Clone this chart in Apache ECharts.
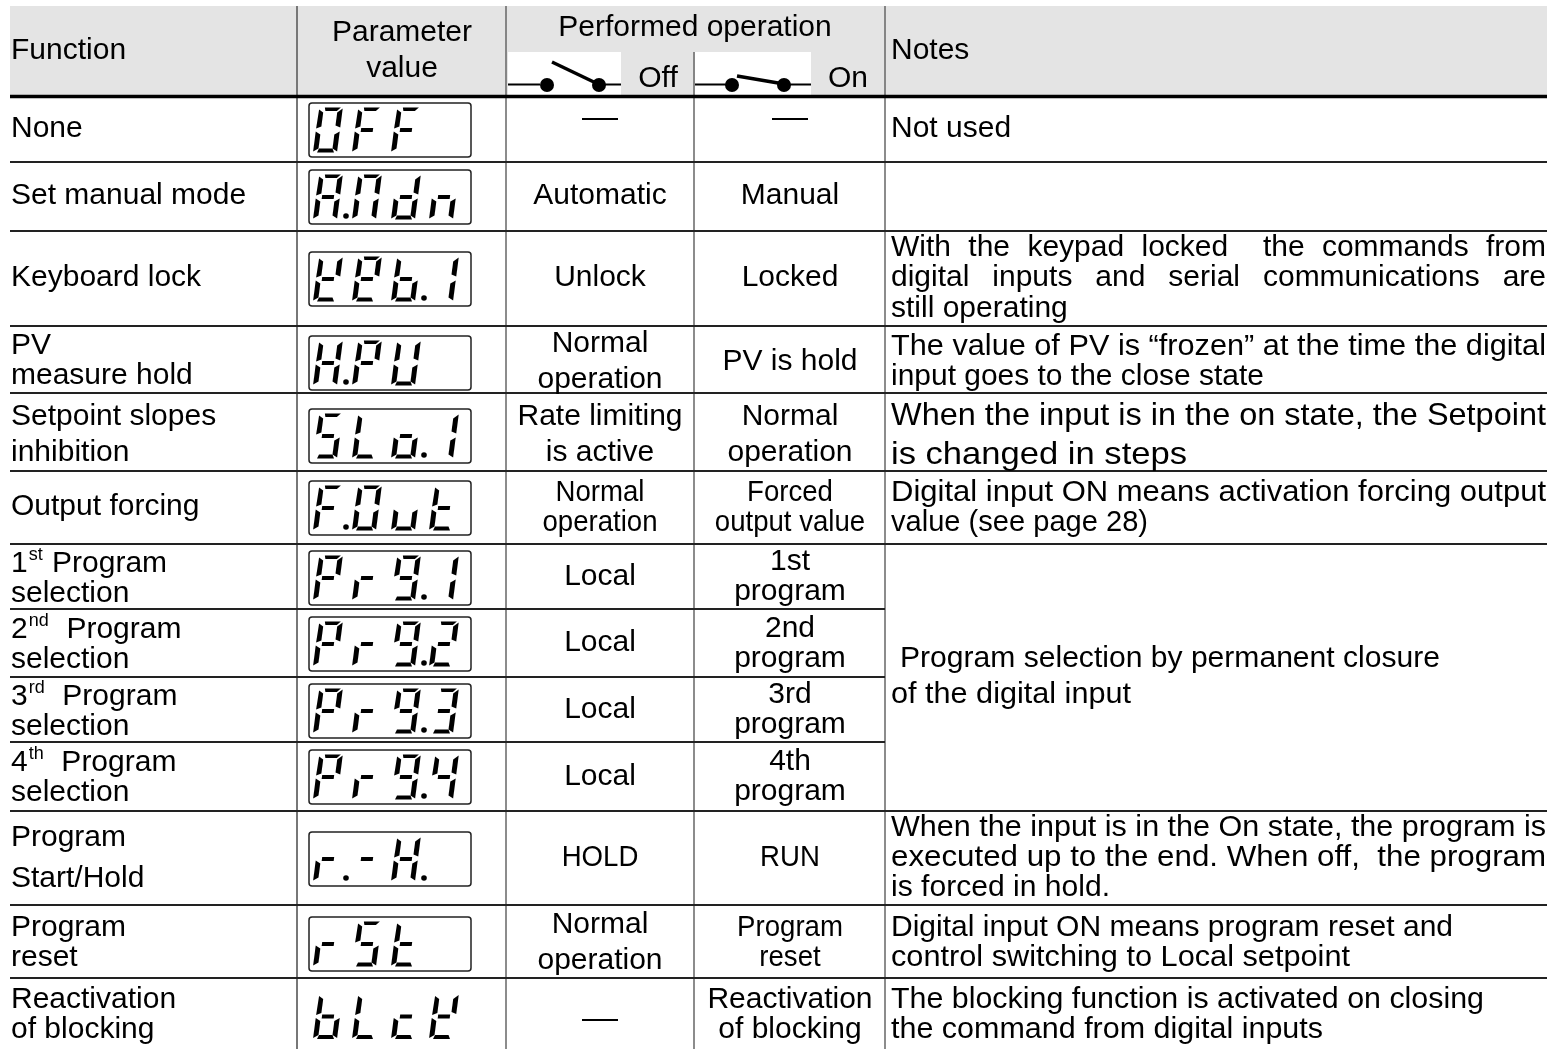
<!DOCTYPE html>
<html><head><meta charset="utf-8">
<style>html,body{margin:0;padding:0;background:#fff}#c{width:1553px;height:1049px}</style>
<script src="https://cdn.jsdelivr.net/npm/echarts@6/dist/echarts.min.js"></script>
</head><body><div id="c"></div>
<script>
// ---- table content ----
const headerLabels = ['Function','Parameter\nvalue','Performed operation','Off','On','Notes'];
const functionLabels = ['None','Set manual mode','Keyboard lock','PV\nmeasure hold','Setpoint slopes\ninhibition','Output forcing',
  '1^st^ Program\nselection','2^nd^  Program\nselection','3^rd^  Program\nselection','4^th^  Program\nselection',
  'Program\nStart/Hold','Program\nreset','Reactivation\nof blocking'];
const parameterCodes = ['OFF','A.Mdn','KEb.1','H.PU','SLo.1','F.Out','Pr9.1','Pr9.2','Pr9.3','Pr9.4','r.-H.','rSt','bLcK'];
const offOperations = ['—','Automatic','Unlock','Normal\noperation','Rate limiting\nis active','Normal\noperation','Local','Local','Local','Local','HOLD','Normal\noperation','—'];
const onOperations = ['—','Manual','Locked','PV is hold','Normal\noperation','Forced\noutput value','1st\nprogram','2nd\nprogram','3rd\nprogram','4th\nprogram','RUN','Program\nreset','Reactivation\nof blocking'];
const noteTexts = ['Not used','','With the keypad locked  the commands from\ndigital inputs and serial communications are\nstill operating',
  'The value of PV is “frozen” at the time the digital\ninput goes to the close state',
  'When the input is in the on state, the Setpoint\nis changed in steps',
  'Digital input ON means activation forcing output\nvalue (see page 28)',
  ' Program selection by permanent closure\nof the digital input',
  'When the input is in the On state, the program is\nexecuted up to the end. When off,  the program\nis forced in hold.',
  'Digital input ON means program reset and\ncontrol switching to Local setpoint',
  'The blocking function is activated on closing\nthe command from digital inputs'];

// ---- layout of the sheet (in sheet units) ----
const SHEET = {w:1553,h:1049,left:10,right:1547,top:6,headBottom:95};
const COLS = {fn:297,param:506,off:694,on:885};
const rowRules = [162,231,326,393,471,544,609,677,742,811,905,978];
const rowRuleRight = [1547,1547,1547,1547,1547,1547,885,885,885,1547,1547,1547];
const fnY = [[127],[194],[276],[344,374],[415,451],[505],[562,592],[628,658],[695,725],[761,791],[836,877],[926,956],[998,1028]];
const offY = [[117],[194],[276],[342,378],[415,451],[491,521],[575],[641],[708],[775],[856],[923,959],[1018]];
const onY = [[117],[194],[276],[360],[415,451],[491,521],[560,590],[627,657],[693,723],[760,790],[856],[926,956],[998,1028]];
const offFit = [1.2,1,1,1,1,.92,1,1,1,1,.92,1,1.2];
const onFit = [1.2,1,1,1,1,.92,1,1,1,1,.92,.92,1];
const noteY = [[127],[],[246,276,307],[345,375],[414,453],[491,521],[657,693],[826,856,886],[926,956],[998,1028]];
const noteRight = [[0],[],['J','J',0],[1546,1264],[1546,1187],[1546,1148],[1440,1131],[1546,1546,1110],[1453,1350],[1484,1323]];
const noteSize = [30,30,30,30,31.5,30,30,30,30,30];
const boxTop = [103,170,252,336,409,481,551,617,684,750,832,917,null];
const plainTop = 994;
const slotX = [313,352,391,429];

// seven-segment outlines in a 24x45 cell
const CELL_H = 45, SHEAR = 0.13;
const SEG = {
 a:[[6,0],[22,0],[18.5,3.5],[7,3.5]],
 b:[[24,1],[24,20],[19,18],[19,5]],
 c:[[24,24],[24,44],[19,41],[19,27]],
 d:[[5.5,41],[19,41],[21,45],[4,45]],
 e:[[0,24],[5,27],[5,41],[0,44]],
 f:[[0.5,2],[5,5],[5,19],[0,21]],
 g:[[6,20.5],[18,20.5],[18,24.5],[6,24.5]]
};
const GLYPH = {O:'abcdef',F:'aefg',A:'abcefg',M:'abcef',d:'bcdeg',n:'ceg',K:'bdefg',E:'abdefg',b:'cdefg','1':'bc',
  H:'bcefg',P:'abefg',U:'bcdef',S:'acdfg',L:'def',o:'cdeg',u:'cde',t:'defg',r:'eg','-':'g','9':'abcdfg','2':'abdeg','3':'abcdg','4':'bcfg',c:'deg'};

const FONT = '"Liberation Sans", Arial, sans-serif';
const INK = '#000';
const BASE = 30;
const mctx = document.createElement('canvas').getContext('2d');
function tw(s,size){ mctx.font = size+'px '+FONT; return mctx.measureText(s).width; }

function sheet(api){ return (x,y)=>api.coord([x,y]); }
function txt(P,s,x,y,o){ o=o||{}; const p=P(x,y+2);
  return {type:'text',x:p[0],y:p[1],scaleX:o.sx||1,silent:true,
    style:{text:s,x:0,y:0,fill:INK,font:(o.size||BASE)+'px '+FONT,align:o.align||'left',verticalAlign:'middle'}};
}
function rule(P,x0,y0,x1,y1,w,c){ const a=P(x0,y0),b=P(x1,y1);
  return {type:'line',shape:{x1:a[0],y1:a[1],x2:b[0],y2:b[1]},style:{stroke:c,lineWidth:w}}; }
function rect(P,x0,y0,x1,y1,style,r){ const a=P(x0,y0),b=P(x1,y1);
  return {type:'rect',shape:{x:a[0],y:a[1],width:b[0]-a[0],height:b[1]-a[1],r:r||0},style}; }
function dot(P,x,y,r,c){ const a=P(x,y); return {type:'circle',shape:{cx:a[0],cy:a[1],r},style:{fill:c}}; }

function renderFrame(params,api){
  const P=sheet(api), ch=[];
  ch.push(rect(P,SHEET.left,SHEET.top,SHEET.right,SHEET.headBottom,{fill:'#e4e4e4'}));
  ch.push(rect(P,508,52,621,SHEET.headBottom,{fill:'#fff'}));
  ch.push(rect(P,695,52,811,SHEET.headBottom,{fill:'#fff'}));
  ch.push(rule(P,COLS.fn,SHEET.top,COLS.fn,SHEET.h,2,'#777'));
  ch.push(rule(P,COLS.param,SHEET.top,COLS.param,SHEET.h,1.5,'#666'));
  ch.push(rule(P,COLS.off,52,COLS.off,SHEET.h,1.5,'#666'));
  ch.push(rule(P,COLS.on,SHEET.top,COLS.on,SHEET.h,1.5,'#666'));
  rowRules.forEach((y,i)=>ch.push(rule(P,SHEET.left,y,rowRuleRight[i],y,2,'#222')));
  ch.push(rule(P,SHEET.left,96.5,SHEET.right,96.5,3.5,'#000'));
  // switch symbols
  ch.push(rule(P,508,84.5,540,84.5,2,'#000'),rule(P,599,84.5,621,84.5,2,'#000'));
  ch.push(dot(P,547,85,7,'#000'),dot(P,599,85,7,'#000'));
  ch.push(rule(P,552,62,598,84,3.5,'#000'));
  ch.push(rule(P,695,84.5,732,84.5,2,'#000'),rule(P,784,84.5,811,84.5,2,'#000'));
  ch.push(dot(P,732,85,7,'#000'),dot(P,784,85,7,'#000'));
  ch.push(rule(P,737,76,784,84,3.5,'#000'));
  return {type:'group',children:ch};
}
function renderHeader(params,api){
  const P=sheet(api), ch=[];
  const pv=headerLabels[1].split('\n');
  ch.push(txt(P,headerLabels[0],11,49));
  ch.push(txt(P,pv[0],402,31,{align:'center'}),txt(P,pv[1],402,67,{align:'center'}));
  ch.push(txt(P,headerLabels[2],695,26,{align:'center'}));
  ch.push(txt(P,headerLabels[3],658,77,{align:'center'}),txt(P,headerLabels[4],848,77,{align:'center'}));
  ch.push(txt(P,headerLabels[5],891,49));
  return {type:'group',children:ch};
}
function fnLine(P,s,y,ch){
  const m=s.match(/^(.)\^(\w+)\^(.*)$/);
  if(!m){ ch.push(txt(P,s,11,y)); return; }
  ch.push(txt(P,m[1],11,y));
  const x1=11+tw(m[1],BASE)+1;
  ch.push(txt(P,m[2],x1,y-9,{size:18}));
  const x2=x1+tw(m[2],18)+1;
  ch.push(txt(P,m[3],x2,y));
}
function renderFunction(params,api){
  const i=api.value(0), P=sheet(api), ch=[];
  functionLabels[i].split('\n').forEach((s,k)=>fnLine(P,s,fnY[i][k],ch));
  return {type:'group',children:ch};
}
function renderOps(labels,ys,fit,cx){
  return function(params,api){
    const i=api.value(0), P=sheet(api), ch=[];
    labels[i].split('\n').forEach((s,k)=>ch.push(txt(P,s,cx,ys[i][k],{align:'center',sx:fit[i]})));
    return {type:'group',children:ch};
  };
}
function renderNote(params,api){
  const i=api.value(0), P=sheet(api), ch=[], size=noteSize[i];
  noteTexts[i].split('\n').forEach((s,k)=>{
    const y=noteY[i][k], right=noteRight[i][k];
    if(!s) return;
    if(right==='J'){
      const words=s.split(/ +/), gaps=s.match(/ +/g).map(g=>g.length);
      const total=words.reduce((a,w)=>a+tw(w,size),0);
      const units=gaps.reduce((a,b)=>a+b,0), unit=(1546-891-total)/units;
      let x=891;
      words.forEach((w,n)=>{ ch.push(txt(P,w,x,y,{size})); x+=tw(w,size)+(gaps[n]||0)*unit; });
      return;
    }
    const lead=s.startsWith(' ')?9:0, t=s.trim(), x=891+lead;
    const sx=right? (right-x)/tw(t,size):1;
    ch.push(txt(P,t,x,y,{size,sx}));
  });
  return {type:'group',children:ch};
}
function renderDisplay(params,api){
  const i=api.value(0), P=sheet(api), ch=[], bt=boxTop[i];
  if(bt!==null) ch.push(rect(P,309,bt,471,bt+54,{fill:'#fff',stroke:'#222',lineWidth:1.5},3));
  const top=(bt===null?plainTop:bt+4.5), code=parameterCodes[i];
  let slot=0;
  for(let n=0;n<code.length;n++){
    const c=code[n];
    if(c==='.'){ ch.push(dot(P,slotX[slot-1]+33,top+41.5,2.8,'#000')); continue; }
    const x0=slotX[slot++];
    GLYPH[c].split('').forEach(sg=>{
      const pts=SEG[sg].map(q=>P(x0+q[0]+(CELL_H-q[1])*SHEAR,top+q[1]));
      ch.push({type:'polygon',shape:{points:pts},style:{fill:'#000'}});
    });
  }
  return {type:'group',children:ch};
}
const rowsOf=a=>a.map((_,i)=>[i,0]);
const custom=(name,data,fn)=>({type:'custom',name,data,renderItem:fn,silent:true,animation:false,clip:false,encode:{x:0,y:1}});

const chart=echarts.init(document.getElementById('c'),null,{renderer:'canvas'});
chart.setOption({
  animation:false,backgroundColor:'#fff',
  grid:{left:0,right:0,top:0,bottom:0,containLabel:false},
  xAxis:{type:'value',min:0,max:SHEET.w,show:false},
  yAxis:{type:'value',min:0,max:SHEET.h,inverse:true,show:false},
  series:[
    custom('frame',[[0,0]],renderFrame),
    custom('header',[[0,0]],renderHeader),
    custom('function',rowsOf(functionLabels),renderFunction),
    custom('parameter',rowsOf(parameterCodes),renderDisplay),
    custom('off',rowsOf(offOperations),renderOps(offOperations,offY,offFit,600)),
    custom('on',rowsOf(onOperations),renderOps(onOperations,onY,onFit,790)),
    custom('notes',rowsOf(noteTexts),renderNote)
  ]
});
</script></body></html>
